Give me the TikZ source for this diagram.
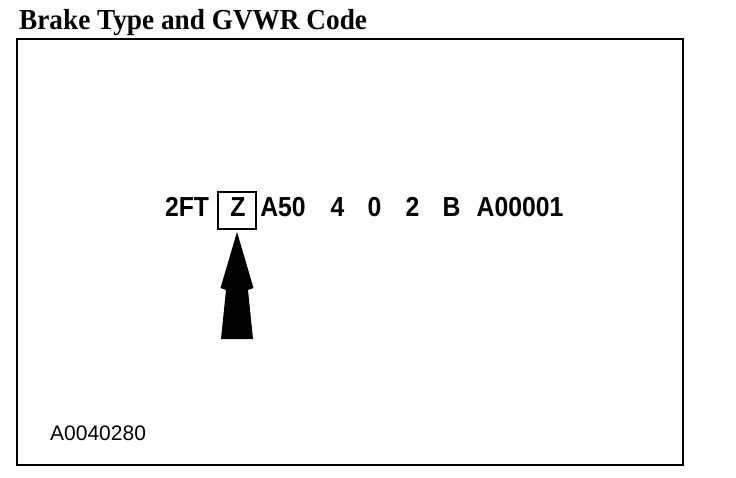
\documentclass[tikz,border=0pt]{standalone}
\usepackage{fontspec}
\setmainfont{Liberation Serif}
\newfontfamily\codefont{Liberation Sans}
\newcommand{\cd}[1]{\scalebox{0.9}[1]{#1}}
\begin{document}
\begin{tikzpicture}[x=1pt,y=-1pt,
  code/.style={inner sep=0pt,font=\codefont\fontsize{27.5}{27.5}\selectfont\bfseries,anchor=base},
  frame/.style={line width=2.6pt}]
\useasboundingbox (0,0) rectangle (736,478);
\node[anchor=base west,inner sep=0pt,font=\fontsize{29}{29}\selectfont\bfseries] (title) at (19,30) {\scalebox{0.94}[1]{Brake Type and GVWR Code}};
\draw[frame] (17,39) rectangle (683,465);
\node[code] (t1) at (187,217) {\cd{2FT}};
\node[draw,line width=1.8pt,minimum width=38pt,minimum height=37pt,inner sep=0pt] (zbox) at (237,210.5) {};
\node[code] (z) at (238,217) {\cd{Z}};
\node[code] (t3) at (283,217) {\cd{A50}};
\node[code] (t4) at (337.5,217) {\cd{4}};
\node[code] (t5) at (374.5,217) {\cd{0}};
\node[code] (t6) at (412.5,217) {\cd{2}};
\node[code] (t7) at (451.5,217) {\cd{B}};
\node[code] (t8) at (520,217) {\cd{A00001}};
\fill (237,232) -- (253.5,288) -- (248,290) -- (253,339) -- (221,339) -- (226,290) -- (220.5,288) -- cycle;
\node[anchor=base west,inner sep=0pt,font=\codefont\fontsize{21}{21}\selectfont] (ref) at (50,440) {A0040280};
\end{tikzpicture}
\end{document}
